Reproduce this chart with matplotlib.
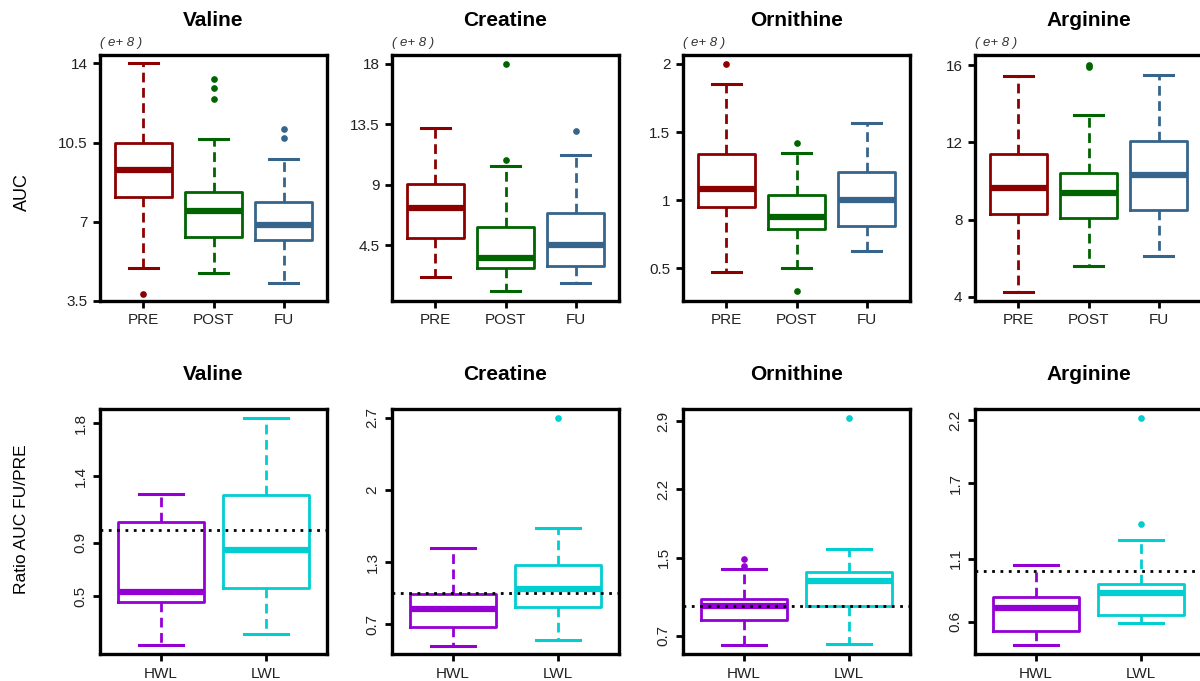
import numpy as np
import matplotlib
matplotlib.use("Agg")
from matplotlib import pyplot as plt

plt.rcParams['font.family'] = ['Liberation Sans', 'DejaVu Sans']

metabolites = ["Valine", "Creatine", "Ornithine", "Arginine"]
time_groups = ["PRE", "POST", "FU"]
loss_groups = ["HWL", "LWL"]

# AUC (e+8), one row per metabolite, columns PRE / POST / FU
auc_lo = [[4.95, 4.75, 4.31], [2.16, 1.11, 1.72], [0.47, 0.50, 0.63], [4.24, 5.58, 6.10]]
auc_q1 = [[8.11, 6.31, 6.19], [5.04, 2.85, 2.97], [0.95, 0.79, 0.81], [8.27, 8.07, 8.47]]
auc_med = [[9.31, 7.48, 6.87], [7.28, 3.59, 4.52], [1.08, 0.88, 1.00], [9.62, 9.36, 10.33]]
auc_q3 = [[10.50, 8.32, 7.88], [9.10, 5.88, 6.91], [1.34, 1.04, 1.21], [11.40, 10.41, 12.05]]
auc_hi = [[14.0, 10.64, 9.77], [13.23, 10.42, 11.19], [1.85, 1.35, 1.57], [15.43, 13.42, 15.46]]
auc_out = [[[3.82], [12.43, 12.89, 13.33], [10.69, 11.10]],
           [[], [10.87, 17.98], [13.01]],
           [[2.0], [0.33, 1.42], []],
           [[], [15.9, 16.0], []]]
auc_ticks = [[3.5, 7, 10.5, 14], [4.5, 9, 13.5, 18], [0.5, 1, 1.5, 2], [4, 8, 12, 16]]
auc_ylim = [(3.5, 14.37), (0.37, 18.66), (0.26, 2.066), (3.78, 16.52)]

# ratio FU/PRE, columns HWL / LWL
ratio_lo = [[0.13, 0.21], [0.49, 0.55], [0.60, 0.61], [0.415, 0.587]]
ratio_q1 = [[0.457, 0.563], [0.668, 0.868], [0.861, 1.0], [0.523, 0.653]]
ratio_med = [[0.528, 0.845], [0.848, 1.042], [1.0, 1.256], [0.706, 0.832]]
ratio_q3 = [[1.055, 1.26], [0.995, 1.275], [1.076, 1.352], [0.793, 0.902]]
ratio_hi = [[1.265, 1.84], [1.433, 1.629], [1.38, 1.592], [1.052, 1.251]]
ratio_out = [[[], []], [[], [2.70]], [[1.41, 1.49], [2.93]], [[], [1.375, 2.218]]]
ratio_ticks = [[0.5, 0.9, 1.4, 1.8], [0.7, 1.3, 2, 2.7], [0.7, 1.5, 2.2, 2.9], [0.6, 1.1, 1.7, 2.2]]
ratio_ylim = [(0.063, 1.908), (0.41, 2.784), (0.512, 3.023), (0.344, 2.29)]

time_colors = ["#8B0000", "#006400", "#36648B"]
loss_colors = ["#9400D3", "#00CED1"]

W, H = 1200, 681
fig = plt.figure(figsize=(12, 6.81), dpi=100)
lefts = [100, 392, 683, 975]


def draw_box(ax, pos, stats, color, width, capw):
    ax.bxp([stats], positions=[pos], widths=width, capwidths=capw,
           showfliers=True,
           boxprops=dict(color=color, lw=2.0),
           medianprops=dict(color=color, lw=4.5, solid_capstyle='butt'),
           whiskerprops=dict(color=color, lw=2.0, linestyle=(0, (3.5, 2))),
           capprops=dict(color=color, lw=2.2),
           flierprops=dict(marker='o', markersize=3.8, markerfacecolor=color,
                           markeredgecolor=color, linestyle='none'))


def style_axes(ax, rotate):
    for s in ax.spines.values():
        s.set_linewidth(2.4)
        s.set_color('black')
    ax.tick_params(direction='out', length=5, width=2, labelsize=11, pad=4,
                   labelcolor='#222222')
    if rotate:
        ax.tick_params(axis='y', labelrotation=90)
        for t in ax.get_yticklabels():
            t.set_va('center')


for i, name in enumerate(metabolites):
    # top row: AUC per time point
    ax = fig.add_axes([lefts[i] / W, 1 - 301 / H, 227 / W, 246 / H])
    for j, g in enumerate(time_groups):
        stats = dict(whislo=auc_lo[i][j], q1=auc_q1[i][j], med=auc_med[i][j],
                     q3=auc_q3[i][j], whishi=auc_hi[i][j], fliers=auc_out[i][j])
        draw_box(ax, j + 1, stats, time_colors[j], 0.82, 0.42)
    ax.set_xlim(0.38, 3.62)
    ax.set_ylim(*auc_ylim[i])
    ax.set_yticks(auc_ticks[i])
    ax.set_yticklabels(["%g" % v for v in auc_ticks[i]])
    ax.set_xticks([1, 2, 3])
    ax.set_xticklabels(time_groups)
    ax.set_title(name, fontsize=15, fontweight='bold', pad=21)
    ax.text(0.0, 1.025, "( e+ 8 )", transform=ax.transAxes, fontsize=9.5,
            style='italic', color='#333333', ha='left', va='bottom')
    style_axes(ax, False)

    # bottom row: ratio FU/PRE per weight-loss group
    ax = fig.add_axes([lefts[i] / W, 1 - 654 / H, 227 / W, 245 / H])
    for j, g in enumerate(loss_groups):
        stats = dict(whislo=ratio_lo[i][j], q1=ratio_q1[i][j], med=ratio_med[i][j],
                     q3=ratio_q3[i][j], whishi=ratio_hi[i][j], fliers=ratio_out[i][j])
        draw_box(ax, j + 1, stats, loss_colors[j], 0.81, 0.42)
    ax.axhline(1.0, color='black', lw=2, linestyle=(0, (1, 2)), zorder=5)
    ax.set_xlim(0.42, 2.58)
    ax.set_ylim(*ratio_ylim[i])
    ax.set_yticks(ratio_ticks[i])
    ax.set_yticklabels(["%g" % v for v in ratio_ticks[i]])
    ax.set_xticks([1, 2])
    ax.set_xticklabels(loss_groups)
    ax.set_title(name, fontsize=15, fontweight='bold', pad=21)
    style_axes(ax, True)

fig.text(22 / W, 1 - 192 / H, "AUC", rotation=90, ha='center', va='center', fontsize=13)
fig.text(22 / W, 1 - 519 / H, "Ratio AUC FU/PRE", rotation=90, ha='center',
         va='center', fontsize=12.5)

fig.savefig("out.png", dpi=100)
